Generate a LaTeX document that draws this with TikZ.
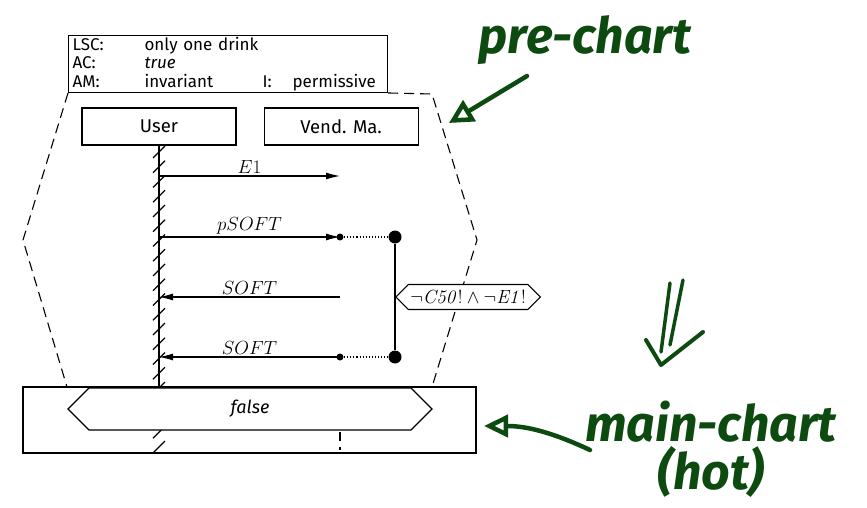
\RequirePackage{fix-cm}
\documentclass[tikz,border=0pt]{standalone}
\usepackage[no-math]{fontspec}
\setmainfont{Fira Sans}
\usetikzlibrary{arrows.meta,shapes.symbols,positioning}
\definecolor{ink}{RGB}{12,74,16}
\newcommand\hdrfont{\fontsize{17}{18.5}\selectfont\lineskiplimit -20pt\relax}
\tikzstyle{hdr}      = [draw, anchor=north west, inner xsep=4pt, inner ysep=1.5pt, text width=311pt, align=left, font=\hdrfont]
\tikzstyle{inst}     = [draw, minimum width=154pt, minimum height=37pt, font=\fontsize{18.5}{22}\selectfont]
\tikzstyle{msg}      = [-{Latex[length=14pt,width=7pt]}]
\tikzstyle{lbl}      = [above, inner sep=2pt, font=\fontsize{19}{22}\selectfont]
\tikzstyle{prechart} = [dash pattern=on 10pt off 6pt]
\tikzstyle{smalldot} = [circle, fill, inner sep=0pt, minimum size=7pt]
\tikzstyle{bigdot}   = [circle, fill, inner sep=0pt, minimum size=13pt]
\tikzstyle{cond}     = [signal, signal to=west and east, draw, fill=white, inner sep=2pt, minimum height=25pt, font=\fontsize{19}{22}\selectfont]
\tikzstyle{pen}      = [color=ink, line width=4.5pt, line cap=round, line join=round]
\tikzstyle{scrawl}   = [color=ink, font=\fontsize{50}{48}\selectfont\itshape\bfseries]

\begin{document}
\begin{tikzpicture}[x=1pt, y=-1pt, line width=1.1pt]
\useasboundingbox (0,0) rectangle (867,508);

% header and instances
\node[hdr] (header) at (68,35) {%
\makebox[72pt][l]{LSC:}only one drink\\
\makebox[72pt][l]{AC:}\textit{true}\\
\makebox[72pt][l]{AM:}\makebox[118pt][l]{invariant}\makebox[30pt][l]{I:}permissive};
\node[inst] (user) at (159,126.5) {User};
\node[inst, right=27pt of user] (vend) {Vend. Ma.};

% pre-chart outline
\coordinate (pl) at (23,240);
\coordinate (pr) at (477,240);
\draw[prechart] (header.south west) -- (pl) -- (67,387);
\draw[prechart] (header.south east) -- (432,94) -- (pr) -- (432,387);

% lifelines
\coordinate (uend) at (159,387);
\coordinate (vend) at (340,387);
\draw (user.south) -- (uend);
\draw (vend.south) -- (vend.south |- vend);
\draw[dash pattern=on 9pt off 6pt] (vend.south |- vend) -- (340,450);
\foreach \i in {0,...,20}
  \draw (153,152+14.75*\i+6) -- (165,152+14.75*\i-6);

% messages
\foreach \n/\y in {1/176,2/237,3/297,4/357}{
  \coordinate (u\n) at (159,\y);
  \coordinate (v\n) at (340,\y);
}
\draw[msg] (u1) -- node[lbl]{$E1$} (v1);
\draw[msg] (u2) -- node[lbl]{$pSOFT$} (v2);
\draw[msg] (v3) -- node[lbl]{$SOFT$} (u3);
\draw[msg] (v4) -- node[lbl]{$SOFT$} (u4);

% condition
\node[smalldot] (d1) at (v2) {};
\node[smalldot] (d2) at (v4) {};
\node[bigdot] (b1) at (395,237) {};
\node[bigdot] (b2) at (395,357) {};
\draw[dotted] (d1) -- (b1);
\draw[dotted] (d2) -- (b2);
\draw (b1) -- (b2);
\node[cond, anchor=west] (cond) at (395,297) {$\neg\mathit{C50}!\wedge\neg\mathit{E1}!$};

% main chart
\node[draw, minimum width=453pt, minimum height=66pt] (main) at (249.5,420) {};
\node[signal, signal to=west and east, draw, fill=white, minimum width=364pt, minimum height=42pt,
  font=\fontsize{18}{20}\selectfont\itshape] (false) at (250,409) {false};

% annotations
\node[scrawl] (prelab) at (585,40) {pre-chart};
\coordinate (prefrom) at (527,76);
\coordinate (preto) at (449,123);
\draw[pen, -{Triangle[open, length=24pt, width=24pt]}] (prefrom) -- (preto);
\draw[pen, line width=3.5pt] (670,283) -- (661,352) (683,280) -- (670,345);
\draw[pen, line width=4pt] (646,340) -- (661,365) -- (703,332);
\node[scrawl, align=center] (mainlab) at (711,449) {main-chart\\(hot)};
\coordinate (mainfrom) at (590,450);
\coordinate (mainto) at (484,426);
\draw[pen, -{Triangle[open, length=24pt, width=22pt]}] (mainfrom) to[out=155, in=0] (mainto);
\end{tikzpicture}
\end{document}
